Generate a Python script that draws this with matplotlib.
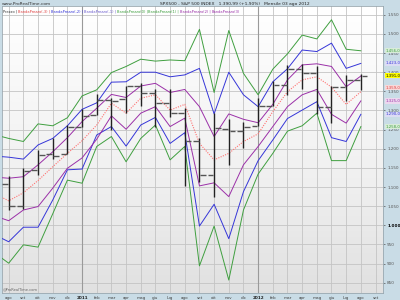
import numpy as np
import matplotlib
matplotlib.use("Agg")
import matplotlib.pyplot as plt

# monthly OHLC, Aug 2010 .. Aug 2012
opens = [1107.5, 1049.7, 1143.5, 1185.7, 1186.6, 1257.6, 1289.1, 1328.6, 1329.5, 1365.2, 1345.2, 1320.6,
         1292.6, 1219.1, 1131.2, 1251.0, 1246.9, 1258.9, 1312.4, 1365.9, 1408.5, 1397.9, 1309.9, 1362.3, 1379.3]
highs = [1129.2, 1148.7, 1196.1, 1227.1, 1262.6, 1302.7, 1344.1, 1332.3, 1364.6, 1370.6, 1356.5, 1356.5,
         1307.4, 1229.3, 1293.0, 1277.6, 1269.4, 1333.5, 1378.0, 1419.2, 1422.4, 1415.3, 1363.5, 1392.0, 1394.2]
lows = [1039.7, 1041.7, 1131.9, 1173.0, 1186.6, 1257.6, 1289.1, 1249.1, 1294.7, 1311.8, 1258.1, 1282.9,
        1101.5, 1114.2, 1074.8, 1158.7, 1202.4, 1258.9, 1312.4, 1340.0, 1357.4, 1291.0, 1266.7, 1325.4, 1354.6]
closes = [1049.3, 1141.2, 1183.3, 1180.6, 1257.6, 1286.1, 1327.2, 1325.8, 1363.6, 1345.2, 1320.6, 1292.3,
          1219.0, 1131.4, 1253.3, 1247.0, 1257.6, 1312.4, 1365.7, 1408.5, 1397.9, 1310.3, 1362.2, 1379.3, 1391.0]

# price bands, Jul 2010 .. Aug 2012
green_up = [1237, 1227, 1219, 1265, 1260, 1281, 1338, 1354, 1399, 1415, 1434, 1429, 1432, 1430,
            1512, 1347, 1509, 1397, 1341, 1408, 1448, 1497, 1487, 1537, 1460, 1456]
blue_up = [1181, 1178, 1173, 1210, 1227, 1260, 1303, 1320, 1374, 1375, 1400, 1400, 1388, 1393,
           1410, 1291, 1400, 1341, 1310, 1375, 1409, 1458, 1454, 1476, 1410, 1423]
purple_up = [1126, 1123, 1127, 1158, 1192, 1229, 1271, 1306, 1342, 1334, 1364, 1371, 1347, 1355,
             1310, 1232, 1291, 1277, 1268, 1316, 1380, 1419, 1422, 1415, 1362, 1390]
middle = [1083, 1064, 1085, 1117, 1153, 1188, 1221, 1262, 1319, 1293, 1332, 1341, 1301, 1316,
          1214, 1171, 1188, 1219, 1239, 1297, 1349, 1380, 1388, 1361, 1316, 1349]
purple_dn = [1025, 1012, 1040, 1049, 1097, 1149, 1176, 1225, 1286, 1251, 1293, 1310, 1258, 1280,
             1103, 1111, 1075, 1158, 1206, 1258, 1310, 1341, 1355, 1290, 1267, 1325]
blue_dn = [976, 957, 995, 995, 1066, 1145, 1147, 1236, 1258, 1207, 1262, 1282, 1214, 1242,
           998, 1055, 965, 1088, 1169, 1223, 1279, 1301, 1323, 1229, 1219, 1290]
green_dn = [929, 901, 949, 943, 1030, 1118, 1110, 1206, 1232, 1166, 1227, 1262, 1171, 1206,
            894, 998, 857, 1040, 1134, 1188, 1246, 1260, 1293, 1169, 1169, 1258]

month_labels = ["ago", "set", "ott", "nov", "dic", "2011", "feb", "mar", "apr", "mag", "giu", "lug", "ago",
                "set", "ott", "nov", "dic", "2012", "feb", "mar", "apr", "mag", "giu", "lug", "ago", "set"]
y_ticks = list(range(850, 1551, 50))

bg_blue = "#c9dce6"
fig = plt.figure(figsize=(4, 3), dpi=100, facecolor=bg_blue)
ax = fig.add_axes([0.005, 0.0233, 0.9525, 0.9567])

# white-to-grey background
grad = np.linspace(1, 0, 256).reshape(-1, 1)
ax.imshow(grad, extent=[0, 1, 0, 1], transform=ax.transAxes, cmap="Greys_r",
          vmin=-3.8, vmax=1, aspect="auto", zorder=0)

ax.set_xlim(-0.457, 25.51)
ax.set_ylim(823.1, 1573.0)

ax.set_xticks(range(len(month_labels)))
ax.set_yticks(y_ticks)
ax.grid(color="#c4c4c4", lw=0.6, zorder=1)
ax.set_axisbelow(True)
for yr in (5, 17):
    ax.axvline(yr, color="#9a9a9a", lw=0.8, zorder=1)

xb = np.arange(-1, len(middle) - 1)
ax.plot(xb, green_up, color="#3f9f3f", lw=0.7, zorder=3)
ax.plot(xb, green_dn, color="#3f9f3f", lw=0.7, zorder=3)
ax.plot(xb, blue_up, color="#3535d8", lw=0.7, zorder=3)
ax.plot(xb, blue_dn, color="#3535d8", lw=0.7, zorder=3)
ax.plot(xb, purple_up, color="#9b30a8", lw=0.7, zorder=3)
ax.plot(xb, purple_dn, color="#9b30a8", lw=0.7, zorder=3)
ax.plot(xb, middle, color="#ff7070", lw=0.8, ls=(0, (1, 1.2)), zorder=3)

# bars
for i in range(len(opens)):
    ax.vlines(i, lows[i], highs[i], color="#222222", lw=1.0, zorder=4)
    ax.hlines(opens[i], i - 0.45, i - 0.05, color="#555555", lw=1.0, zorder=4)
    ax.hlines(closes[i], i + 0.05, i + 0.45, color="#555555", lw=1.0, zorder=4)

ax.yaxis.tick_right()
ax.set_yticklabels([f"{v:,}".replace(",", ".") for v in y_ticks])
ax.tick_params(axis="y", length=1.5, width=0.5, pad=1.5, labelsize=3, colors="#555555")
ax.tick_params(axis="x", length=0, pad=2.5, labelsize=3, labelcolor="#444444")
ax.set_xticklabels(month_labels)
for lab in ax.get_xticklabels():
    if lab.get_text() in ("2011", "2012"):
        lab.set_fontweight("bold")
        lab.set_color("#222222")
for lab in ax.get_yticklabels():
    if lab.get_text() == "1.000":
        lab.set_fontweight("bold")
        lab.set_color("#000000")
for sp in ax.spines.values():
    sp.set_color("#9aa8b0")
    sp.set_linewidth(0.6)

# header
fig.text(0.005, 0.992, "www.ProRealTime.com", fontsize=3.2, color="#333333", va="top")
fig.text(0.40, 0.992, "SPX500 - S&P 500 INDEX   1.390,99 (+1,90%)   Mensile 03 ago 2012",
         fontsize=3.2, color="#222222", va="top")

# legend row, placed one after another using measured widths
legend_items = [("Prezzo", "#333333"), ("BandaPrezzo(-3)", "#e04040"), ("BandaPrezzo(-2)", "#3535d8"),
                ("BandaPrezzo(-1)", "#6a5acd"), ("BandaPrezzo(0)", "#3f9f3f"), ("BandaPrezzo(1)", "#3f9f3f"),
                ("BandaPrezzo(2)", "#9b30a8"), ("BandaPrezzo(3)", "#9b30a8")]
renderer = fig.canvas.get_renderer()
xt = 3.0
for k, (txt, c) in enumerate(legend_items):
    s = txt + (" |" if k < len(legend_items) - 1 else "")
    t = fig.text(xt / 400, 0.968, s, fontsize=2.6, color=c, va="top")
    xt += t.get_window_extent(renderer).width + 1.0

fig.text(0.008, 0.03, "@ProRealTime.com", fontsize=2.6, color="#666666", va="bottom")

# last-value boxes on the right
last_vals = [(green_up[-1], "#d8ecd8", "#3f9f3f"), (blue_up[-1], "#dcdcf4", "#3535d8"),
             (middle[-1] + 10, "#f8d8d8", "#e04040"), (purple_dn[-1], "#ecd8ee", "#9b30a8"),
             (blue_dn[-1], "#dcdcf4", "#3535d8"), (green_dn[-1], "#d8ecd8", "#3f9f3f"),
             (closes[-1], "#ffff00", "#000000")]
for v, fc, tc in last_vals:
    lbl = f"{v:,.1f}".replace(",", "x").replace(".", ",").replace("x", ".")
    ax.text(1.006, (v - 823.1) / (1573.0 - 823.1), lbl,
            transform=ax.transAxes, fontsize=2.8, color=tc, va="center", ha="left",
            bbox=dict(boxstyle="square,pad=0.15", fc=fc, ec="none"))

fig.savefig("out.png", dpi=100, facecolor=bg_blue)
